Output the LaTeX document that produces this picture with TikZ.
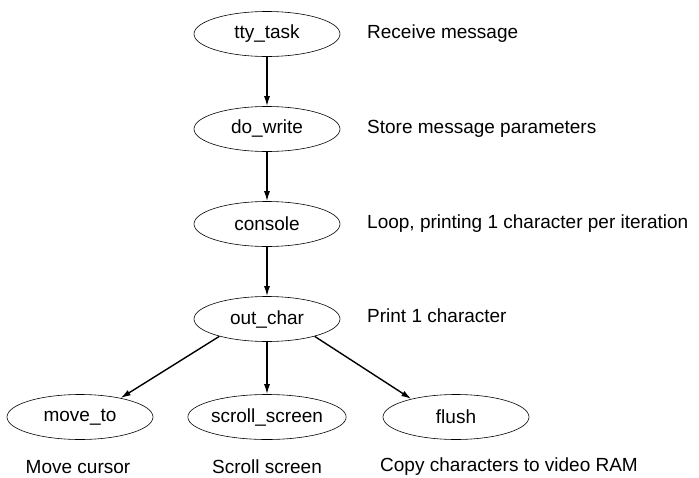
\documentclass[tikz,border=0pt]{standalone}
\usepackage{fontspec}
\setmainfont{Liberation Sans}
\usetikzlibrary{shapes.geometric,arrows.meta}
\begin{document}
\begin{tikzpicture}[x=1pt,y=-1pt,
  proc/.style={ellipse,draw,line width=0.6pt,minimum width=146pt,minimum height=45pt,inner sep=0pt,font=\fontsize{19}{22}\selectfont},
  note/.style={anchor=west,inner sep=0pt,font=\fontsize{19}{22}\selectfont},
  bnote/.style={anchor=center,inner sep=0pt,font=\fontsize{19}{22}\selectfont},
  call/.style={line width=1.4pt,-{Latex[length=10pt,width=6pt]}}]
\useasboundingbox (0,0) rectangle (699,477);
\node[proc] (tty) at (267,34) {tty\_task};
\node[proc] (dow) at (267,129) {do\_write};
\node[proc] (con) at (267,224) {console};
\node[proc] (out) at (267,319) {out\_char};
\node[proc] (mov) at (80,417) {move\_to};
\node[proc] (scr) at (267,417) {scroll\_screen};
\node[proc] (flu) at (456,417) {flush};
\node[note] (l1) at (367,34) {Receive message};
\node[note] (l2) at (367,129) {Store message parameters};
\node[note] (l3) at (367,224) {Loop, printing 1 character per iteration};
\node[note] (l4) at (367,316) {Print 1 character};
\node[bnote] (b1) at (78,467) {Move cursor};
\node[bnote] (b2) at (267,467) {Scroll screen};
\node[note] (b3) at (380,467) {Copy characters to video RAM};
\draw[call] (tty) -- (dow);
\draw[call] (dow) -- (con);
\draw[call] (con) -- (out);
\draw[call] (out.200) -- (mov.25);
\draw[call] (out) -- (scr);
\draw[call] (out.340) -- (flu.158);
\end{tikzpicture}
\end{document}
